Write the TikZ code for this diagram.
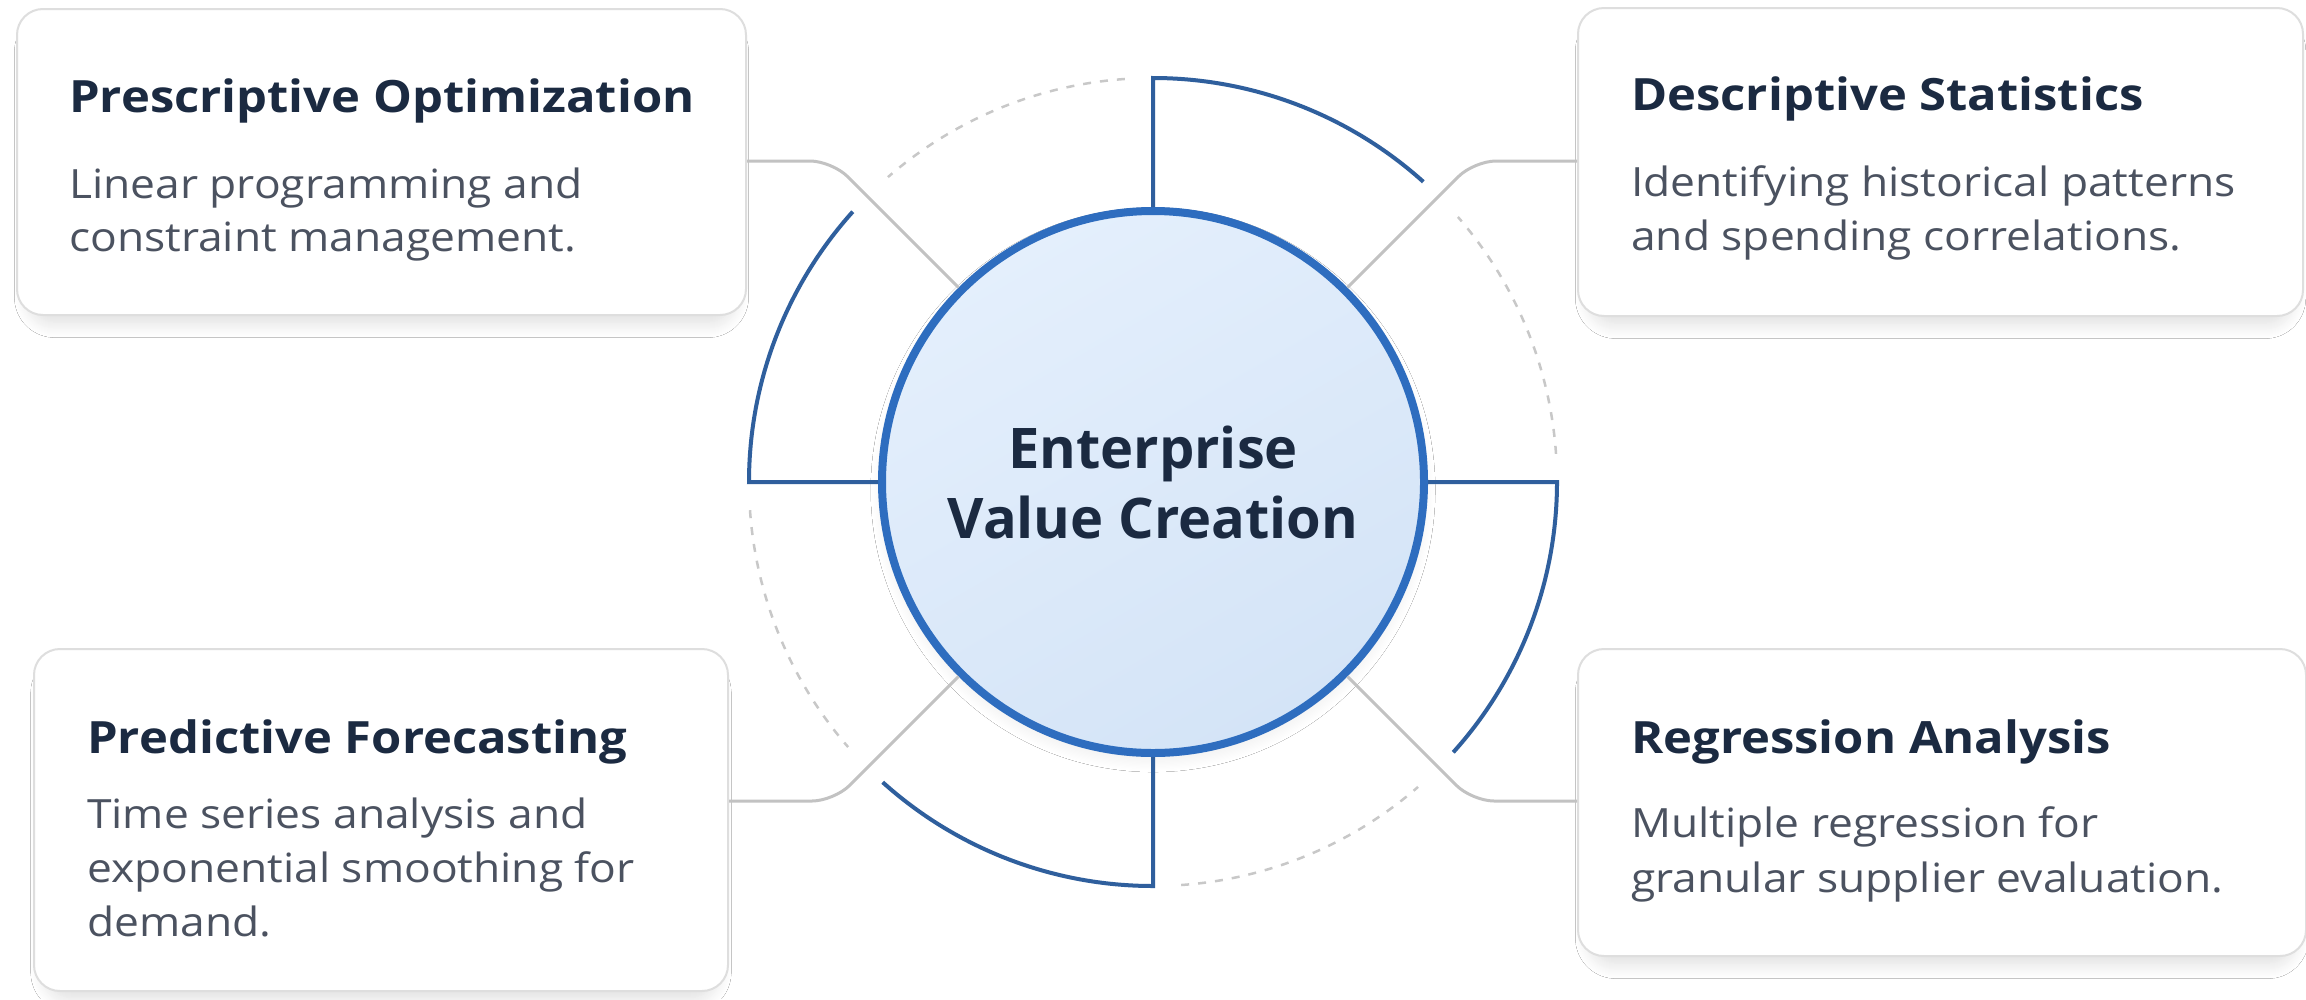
\documentclass[tikz,border=0pt]{standalone}
\usepackage{fontspec}
\setmainfont{Open Sans}
\newfontfamily\cardfont{Open Sans}[FakeStretch=1.1]
\usetikzlibrary{shadows.blur,calc}
\definecolor{titlec}{HTML}{1B2A41}
\definecolor{bodyc}{HTML}{4B5260}
\definecolor{hubline}{HTML}{2E6DBF}
\definecolor{hubfillA}{HTML}{E4EFFC}
\definecolor{hubfillB}{HTML}{D4E4F7}
\definecolor{arcc}{HTML}{2F5F9D}
\definecolor{connc}{HTML}{C2C2C2}
\definecolor{dashc}{HTML}{C8C8C8}
\definecolor{cardline}{HTML}{DEDEDE}
\tikzset{
  card/.style={rectangle, rounded corners=26, draw=cardline, line width=2, fill=white, inner sep=0, anchor=north west,
    blur shadow={shadow xshift=0pt, shadow yshift=-13pt, shadow scale=0.965, shadow opacity=14, shadow blur radius=16pt, shadow blur steps=16}},
  ttl/.style={anchor=base west, inner sep=0, text=titlec, font=\cardfont\fontsize{44.5}{52}\selectfont\bfseries},
  bdy/.style={anchor=base west, inner sep=0, text=bodyc, font=\cardfont\fontsize{40.3}{52}\selectfont},
  arcline/.style={draw=arcc, line width=4},
  conn/.style={draw=connc, line width=3, rounded corners=22},
  dashline/.style={draw=dashc, line width=2.5, dash pattern=on 8 off 9},
}
\begin{document}
\begin{tikzpicture}[x=1pt,y=1pt]
\useasboundingbox (0,0) rectangle (2306,-999);
\fill[white] (0,0) rectangle (2306,-999);

% hub
\node[circle, minimum size=542, inner sep=0, line width=8, draw=hubline,
      top color=hubfillA, bottom color=hubfillB, shading angle=30,
      blur shadow={shadow xshift=0pt, shadow yshift=-8pt, shadow scale=0.97, shadow opacity=12, shadow blur radius=20pt, shadow blur steps=16},
      text=titlec, align=center, font=\fontsize{56}{70}\selectfont\bfseries] (hub) at (1153,-482) {Enterprise\\Value Creation};

% dashed ring segments
\foreach \k in {0,90,180,270}{
  \draw[dashline] ($(hub.center)+(\k+4:404)$) arc[start angle=\k+4, end angle=\k+41, radius=404];
}

% solid blue arcs with radial spokes
\coordinate (sT) at ($(hub.center)+(90:404)$);
\coordinate (sR) at ($(hub.center)+(0:404)$);
\coordinate (sB) at ($(hub.center)+(270:404)$);
\coordinate (sL) at ($(hub.center)+(180:404)$);
\draw[arcline] (hub.north) -- (sT) arc[start angle=90, end angle=48, radius=404];
\draw[arcline] (hub.east) -- (sR) arc[start angle=0, end angle=-42, radius=404];
\draw[arcline] (hub.south) -- (sB) arc[start angle=270, end angle=228, radius=404];
\draw[arcline] (hub.west) -- (sL) arc[start angle=180, end angle=138, radius=404];

% cards
\node[card, minimum width=729, minimum height=306] (c1) at (16,-8) {};
\node[card, minimum width=725, minimum height=308] (c2) at (1577,-7) {};
\node[card, minimum width=694, minimum height=342] (c3) at (33,-648) {};
\node[card, minimum width=728, minimum height=307] (c4) at (1577,-648) {};

% connectors
\coordinate (k1) at (832,-161);
\coordinate (k2) at (1474,-161);
\coordinate (k3) at (834,-801);
\coordinate (k4) at (1472,-801);
\draw[conn] (hub.135) -- (k1) -- (k1 -| c1.east);
\draw[conn] (hub.45) -- (k2) -- (k2 -| c2.west);
\draw[conn] (hub.-135) -- (k3) -- (k3 -| c3.east);
\draw[conn] (hub.-45) -- (k4) -- (k4 -| c4.west);

% texts
\node[ttl] (t1) at (69,-112) {Prescriptive Optimization};
\node[bdy] (b1a) at (69,-198) {Linear programming and};
\node[bdy] (b1b) at (69,-251) {constraint management.};

\node[ttl] (t2) at (1631,-110) {Descriptive Statistics};
\node[bdy] (b2a) at (1631,-196) {Identifying historical patterns};
\node[bdy] (b2b) at (1631,-250) {and spending correlations.};

\node[ttl] (t3) at (87,-753) {Predictive Forecasting};
\node[bdy] (b3a) at (87,-828) {Time series analysis and};
\node[bdy] (b3b) at (87,-882) {exponential smoothing for};
\node[bdy] (b3c) at (87,-936) {demand.};

\node[ttl] (t4) at (1631,-753) {Regression Analysis};
\node[bdy] (b4a) at (1631,-837) {Multiple regression for};
\node[bdy] (b4b) at (1631,-892) {granular supplier evaluation.};
\end{tikzpicture}
\end{document}
